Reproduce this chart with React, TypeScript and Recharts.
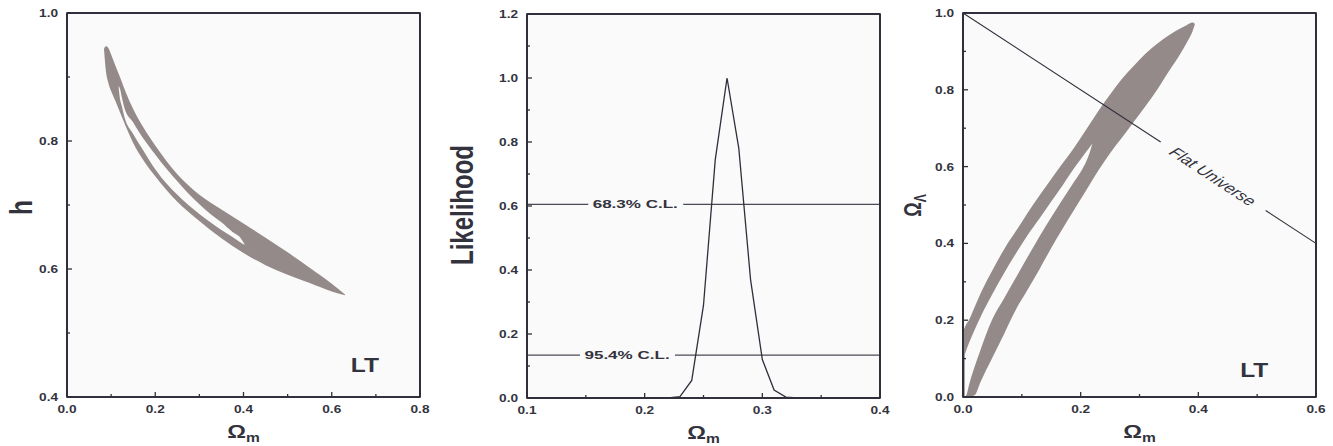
import {
  ComposedChart,
  Area,
  Line,
  XAxis,
  YAxis,
  ReferenceLine,
  ReferenceDot,
} from "recharts";

const FONT = '"Liberation Sans", Arial, Helvetica, sans-serif';
const INK = "#2f2f3b";
const TEXT = "#33333d";
const CONTOUR = "#958a8a";
const PLOT_BG = "#fafafa";
// the original figure is stretched sideways, so text is widened to match
const SX = 1.3;
const Y_AXIS_W = 60;
const X_AXIS_H = 30;
const H = 446;

// ---------- panel 1: h against Omega_m
const hOuterX = [0.084, 0.088, 0.094, 0.1, 0.11, 0.12, 0.135, 0.15, 0.175, 0.2, 0.25, 0.3, 0.35, 0.4, 0.45, 0.5, 0.55, 0.6, 0.63];
const hOuterLo = [0.942, 0.91, 0.89, 0.878, 0.862, 0.845, 0.82, 0.797, 0.768, 0.745, 0.705, 0.675, 0.648, 0.625, 0.606, 0.591, 0.578, 0.565, 0.559];
const hOuterHi = [0.944, 0.948, 0.945, 0.935, 0.917, 0.9, 0.873, 0.85, 0.819, 0.793, 0.748, 0.716, 0.693, 0.671, 0.649, 0.626, 0.602, 0.577, 0.56];
const hHoleX = [0.117, 0.12, 0.124, 0.13, 0.15, 0.175, 0.2, 0.225, 0.25, 0.275, 0.3, 0.325, 0.35, 0.375, 0.39, 0.402];
const hHoleLo = [0.884, 0.866, 0.855, 0.838, 0.811, 0.783, 0.756, 0.734, 0.716, 0.7, 0.686, 0.673, 0.661, 0.65, 0.643, 0.638];
const hHoleHi = [0.886, 0.882, 0.869, 0.852, 0.829, 0.802, 0.779, 0.757, 0.737, 0.718, 0.701, 0.686, 0.673, 0.658, 0.651, 0.639];
const hXTicks = [0, 0.1, 0.2, 0.3, 0.4, 0.5, 0.6, 0.7, 0.8];
const hXMajor = [0, 0.2, 0.4, 0.6, 0.8];
const hYTicks = [0.4, 0.5, 0.6, 0.7, 0.8, 0.9, 1.0];
const hYMajor = [0.4, 0.6, 0.8, 1.0];

// ---------- panel 2: likelihood of Omega_m
const omegaM = [
  0.1, 0.11, 0.12, 0.13, 0.14, 0.15, 0.16, 0.17, 0.18, 0.19, 0.2, 0.21, 0.22, 0.23, 0.24, 0.25,
  0.26, 0.27, 0.28, 0.29, 0.3, 0.31, 0.32, 0.33, 0.34, 0.35, 0.36, 0.37, 0.38, 0.39, 0.4,
];
const likelihood = [
  0, 0, 0, 0, 0, 0, 0, 0, 0, 0, 0, 0, 0, 0.004, 0.055, 0.29,
  0.745, 1.0, 0.78, 0.37, 0.12, 0.025, 0.003, 0, 0, 0, 0, 0, 0, 0, 0,
];
const clLevels = [0.605, 0.134];
const clNames = ["68.3% C.L.", "95.4% C.L."];
const clTagX = [0.192, 0.185];
const lXTicks = [0.1, 0.15, 0.2, 0.25, 0.3, 0.35, 0.4];
const lXMajor = [0.1, 0.2, 0.3, 0.4];
const lYTicks = [0, 0.1, 0.2, 0.3, 0.4, 0.5, 0.6, 0.7, 0.8, 0.9, 1.0, 1.1, 1.2];
const lYMajor = [0, 0.2, 0.4, 0.6, 0.8, 1.0, 1.2];

// ---------- panel 3: Omega_Lambda against Omega_m
const lamOuterX = [0, 0.005, 0.01, 0.02, 0.03, 0.05, 0.07, 0.09, 0.11, 0.13, 0.15, 0.17, 0.19, 0.21, 0.23, 0.25, 0.27, 0.29, 0.31, 0.33, 0.35, 0.37, 0.38, 0.39, 0.394];
const lamOuterLo = [0, 0, 0, 0.005, 0.04, 0.103, 0.165, 0.228, 0.28, 0.333, 0.388, 0.44, 0.49, 0.54, 0.59, 0.635, 0.675, 0.716, 0.757, 0.8, 0.848, 0.895, 0.922, 0.952, 0.97];
const lamOuterHi = [0.17, 0.188, 0.2, 0.235, 0.27, 0.33, 0.385, 0.432, 0.48, 0.525, 0.568, 0.61, 0.652, 0.698, 0.745, 0.788, 0.828, 0.862, 0.894, 0.92, 0.942, 0.96, 0.968, 0.975, 0.972];
const lamHoleX = [0.003, 0.006, 0.01, 0.02, 0.03, 0.05, 0.07, 0.09, 0.11, 0.13, 0.15, 0.17, 0.19, 0.2, 0.21, 0.215, 0.22];
const lamHoleLo = [0, 0.006, 0.03, 0.08, 0.124, 0.203, 0.257, 0.311, 0.365, 0.418, 0.468, 0.516, 0.563, 0.586, 0.615, 0.635, 0.66];
const lamHoleHi = [0.11, 0.124, 0.14, 0.176, 0.209, 0.268, 0.323, 0.374, 0.422, 0.465, 0.509, 0.553, 0.598, 0.619, 0.64, 0.65, 0.66];
// flat universe line, broken where its label sits
const flatX = [0, 0.336, 0.5145, 0.6];
const flatY = [1, 0.664, 0.4855, 0.4];
const mXTicks = [0, 0.1, 0.2, 0.3, 0.4, 0.5, 0.6];
const mXMajor = [0, 0.2, 0.4, 0.6];
const mYTicks = [0, 0.1, 0.2, 0.3, 0.4, 0.5, 0.6, 0.7, 0.8, 0.9, 1.0];
const mYMajor = [0, 0.2, 0.4, 0.6, 0.8, 1.0];

const band = (xs: number[], lo: number[], hi: number[]) => xs.map((x, i) => ({ x, r: [lo[i], hi[i]] }));
const hOuter = band(hOuterX, hOuterLo, hOuterHi);
const hHole = band(hHoleX, hHoleLo, hHoleHi);
const lamOuter = band(lamOuterX, lamOuterLo, lamOuterHi);
const lamHole = band(lamHoleX, lamHoleLo, lamHoleHi);
const likeData = omegaM.map((x, i) => ({ x, y: likelihood[i] }));

const isMajor = (v: number, majors: number[]) => majors.some((m) => Math.abs(m - v) < 1e-6);

function Wide({ x, y, size, anchor = "middle", sx = SX, rotate = 0, weight = 700, children }: any) {
  const rot = rotate ? ` rotate(${rotate})` : "";
  return (
    <text
      transform={`translate(${x},${y}) scale(${sx},1)${rot}`}
      textAnchor={anchor}
      fontFamily={FONT}
      fontSize={size}
      fontWeight={weight}
      fill={TEXT}
    >
      {children}
    </text>
  );
}

type Side = "bottom" | "top" | "left" | "right";

// inward tick mark, longer where the tick is labelled, plus the label on bottom / left
function tickFor(side: Side, majors: number[]) {
  return (props: any) => {
    const x = Number(props.x);
    const y = Number(props.y);
    const v = Number(props.payload?.value);
    const major = isMajor(v, majors);
    const len = major ? 5 : 3;
    const x2 = side === "left" ? x + len : side === "right" ? x - len : x;
    const y2 = side === "bottom" ? y - len : side === "top" ? y + len : y;
    return (
      <g>
        <line x1={x} y1={y} x2={x2} y2={y2} stroke={INK} strokeWidth={1.3} />
        {major && side === "bottom" && (
          <Wide x={x} y={y + 16} size={10.5}>
            {v.toFixed(1)}
          </Wide>
        )}
        {major && side === "left" && (
          <Wide x={x - 9} y={y + 4} size={10.5} anchor="end">
            {v.toFixed(1)}
          </Wide>
        )}
      </g>
    );
  };
}

type Spec = {
  xDomain: number[];
  yDomain: number[];
  xTicks: number[];
  xMajor: number[];
  yTicks: number[];
  yMajor: number[];
};

function frame({ xDomain, yDomain, xTicks, xMajor, yTicks, yMajor }: Spec) {
  const common = {
    type: "number" as const,
    interval: 0,
    tickSize: 0,
    tickMargin: 0,
    tickLine: false,
    axisLine: { stroke: INK, strokeWidth: 1.6 },
  };
  return [
    <XAxis key="xb" {...common} dataKey="x" domain={xDomain} ticks={xTicks} height={X_AXIS_H} tick={tickFor("bottom", xMajor)} />,
    <XAxis key="xt" {...common} xAxisId="top" orientation="top" dataKey="x" domain={xDomain} ticks={xTicks} height={1} tick={tickFor("top", xMajor)} />,
    <YAxis key="yl" {...common} domain={yDomain} ticks={yTicks} width={Y_AXIS_W} tick={tickFor("left", yMajor)} />,
    <YAxis key="yr" {...common} yAxisId="right" orientation="right" domain={yDomain} ticks={yTicks} width={1} tick={tickFor("right", yMajor)} />,
    <ReferenceLine key="e1" x={xDomain[0]} stroke={INK} strokeWidth={1.6} ifOverflow="visible" />,
    <ReferenceLine key="e2" x={xDomain[1]} stroke={INK} strokeWidth={1.6} ifOverflow="visible" />,
    <ReferenceLine key="e3" y={yDomain[0]} stroke={INK} strokeWidth={1.6} ifOverflow="visible" />,
    <ReferenceLine key="e4" y={yDomain[1]} stroke={INK} strokeWidth={1.6} ifOverflow="visible" />,
  ];
}

const ltTag = (p: any) => (
  <Wide x={p.cx} y={p.cy + 7} size={19.5} sx={1.26}>
    LT
  </Wide>
);

const clTag = (label: string) => (p: any) => (
  <g>
    <rect x={p.cx - 47} y={p.cy - 10} width={95} height={20} fill={PLOT_BG} />
    <Wide x={p.cx} y={p.cy + 4} size={11} sx={1.55}>
      {label}
    </Wide>
  </g>
);

const flatTag = (p: any) => (
  <text
    transform={`translate(${p.cx},${p.cy}) scale(${SX},1) rotate(40.5)`}
    textAnchor="middle"
    dominantBaseline="central"
    fontFamily={FONT}
    fontSize={14}
    fontStyle="italic"
    fill={TEXT}
  >
    Flat Universe
  </text>
);

const contour = { type: "monotone" as const, stroke: "none", fillOpacity: 1, dot: false, activeDot: false, isAnimationActive: false };

// a panel: the light plot backdrop (with its frame) sits under the transparent chart svg
function Panel({ left, width, margin, children }: any) {
  const plot = {
    left: margin.left + Y_AXIS_W,
    top: margin.top + 1,
    width: width - margin.left - Y_AXIS_W - margin.right - 1,
    height: H - margin.top - 1 - margin.bottom - X_AXIS_H,
  };
  return (
    <div style={{ position: "absolute", left, top: 0, width, height: H }}>
      <div
        style={{
          position: "absolute",
          ...plot,
          background: PLOT_BG,
          boxShadow: `inset 0 0 0 0.8px ${INK}, 0 0 0 0.8px ${INK}`,
        }}
      />
      <div style={{ position: "absolute", left: 0, top: 0 }}>
        <ComposedChart width={width} height={H} margin={margin}>
          {children}
        </ComposedChart>
      </div>
    </div>
  );
}

// axis titles of the three panels
function Titles() {
  const omega = (cx: number, y: number, sub: string, rotate = 0) => (
    <text
      transform={`translate(${cx},${y}) scale(${SX},1)${rotate ? ` rotate(${rotate})` : ""}`}
      textAnchor="middle"
      fontFamily={FONT}
      fontWeight={700}
      fill={TEXT}
    >
      <tspan fontSize={18}>Ω</tspan>
      <tspan fontSize={12} dy={4}>
        {sub}
      </tspan>
    </text>
  );
  return (
    <svg width={1333} height={H} style={{ position: "absolute", left: 0, top: 0, pointerEvents: "none" }}>
      <Wide x={32} y={207.5} size={24.5} rotate={-90}>
        h
      </Wide>
      <Wide x={473} y={205} size={24} rotate={-90}>
        Likelihood
      </Wide>
      {omega(921, 205.5, "Λ", -90)}
      {omega(243.5, 438, "m")}
      {omega(703.5, 439, "m")}
      {omega(1139.5, 438, "m")}
    </svg>
  );
}

const spec1: Spec = { xDomain: [0, 0.8], yDomain: [0.4, 1.0], xTicks: hXTicks, xMajor: hXMajor, yTicks: hYTicks, yMajor: hYMajor };
const spec2: Spec = { xDomain: [0.1, 0.4], yDomain: [0, 1.2], xTicks: lXTicks, xMajor: lXMajor, yTicks: lYTicks, yMajor: lYMajor };
const spec3: Spec = { xDomain: [0, 0.6], yDomain: [0, 1.0], xTicks: mXTicks, xMajor: mXMajor, yTicks: mYTicks, yMajor: mYMajor };

export default function App() {
  return (
    <div style={{ position: "absolute", left: 0, top: 0, width: 1333, height: H, background: "#fff", overflow: "hidden" }}>
      <Panel left={0} width={444} margin={{ top: 12, right: 23, bottom: 19, left: 7 }}>
        <Area data={hOuter} dataKey="r" fill={CONTOUR} {...contour} />
        <Area data={hHole} dataKey="r" fill={PLOT_BG} {...contour} />
        {frame(spec1)}
        <ReferenceDot x={0.675} y={0.45} r={0} shape={ltTag} />
      </Panel>
      <Panel left={444} width={450} margin={{ top: 13, right: 13, bottom: 18, left: 23 }}>
        {clLevels.map((v) => (
          <ReferenceLine key={v} y={v} stroke="#4a4a55" strokeWidth={1.2} />
        ))}
        <Line data={likeData} dataKey="y" type="linear" stroke={INK} strokeWidth={1.3} dot={false} activeDot={false} isAnimationActive={false} />
        {frame(spec2)}
        {clLevels.map((v, i) => (
          <ReferenceDot key={"c" + v} x={clTagX[i]} y={v} r={0} shape={clTag(clNames[i])} />
        ))}
      </Panel>
      <Panel left={888} width={445} margin={{ top: 12, right: 16, bottom: 19, left: 15 }}>
        <Area data={lamOuter} dataKey="r" fill={CONTOUR} {...contour} />
        <Area data={lamHole} dataKey="r" fill={PLOT_BG} {...contour} />
        <ReferenceLine
          segment={[{ x: flatX[0], y: flatY[0] }, { x: flatX[1], y: flatY[1] }]}
          stroke={INK}
          strokeWidth={1.1}
          ifOverflow="visible"
        />
        <ReferenceLine
          segment={[{ x: flatX[2], y: flatY[2] }, { x: flatX[3], y: flatY[3] }]}
          stroke={INK}
          strokeWidth={1.1}
          ifOverflow="visible"
        />
        {frame(spec3)}
        <ReferenceDot x={0.425} y={0.575} r={0} shape={flatTag} />
        <ReferenceDot x={0.495} y={0.07} r={0} shape={ltTag} />
      </Panel>
      <Titles />
    </div>
  );
}
